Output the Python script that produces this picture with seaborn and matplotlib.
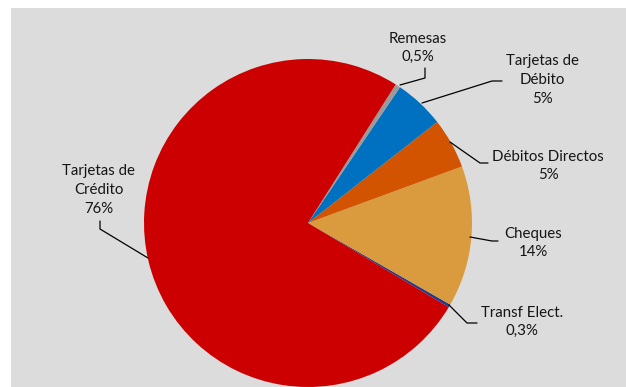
import matplotlib
matplotlib.use("Agg")
import matplotlib.pyplot as plt
from matplotlib.patches import Rectangle
import seaborn as sns

# Payment instruments and their share (%)
categories = ["Transf Elect.", "Cheques", "Débitos Directos", "Tarjetas de\nDébito", "Remesas", "Tarjetas de\nCrédito"]
shares = [0.3, 14, 5, 5, 0.5, 76]
share_labels = ["0,3%", "14%", "5%", "5%", "0,5%", "76%"]
colors = ["#1F3C8F", "#DA9B3E", "#D35400", "#0070C0", "#9A9A9A", "#CC0000"]

sns.set_theme(style="white")
plt.rcParams["font.family"] = ["Lato", "DejaVu Sans"]

W, H = 626, 387
fig = plt.figure(figsize=(W / 100, H / 100), dpi=100)
ax = fig.add_axes([0, 0, 1, 1])

# chart area background
ax.add_patch(Rectangle((11, 0), W - 11, H - 8, facecolor="#DCDCDC", edgecolor="none", zorder=0))

cx, cy, r = 308, H - 223, 164
ax.pie(shares, colors=colors, startangle=-30.9, counterclock=True,
       center=(cx, cy), radius=r, wedgeprops=dict(linewidth=0), frame=False)

ax.set_xlim(0, W)
ax.set_ylim(0, H)
ax.set_aspect("auto")
ax.axis("off")

def py(y):
    return H - y

# label positions (text centre) and leader line paths in pixel coordinates
label_pos = {
    "Transf Elect.": (522, 322),
    "Cheques": (533, 243),
    "Débitos Directos": (548, 166),
    "Tarjetas de\nDébito": (542, 80),
    "Remesas": (418, 48),
    "Tarjetas de\nCrédito": (99, 190),
}
leaders = {
    "Transf Elect.": [(449, 305), (467, 323), (477, 323)],
    "Cheques": [(470, 237), (492, 241), (498, 241)],
    "Débitos Directos": [(450, 142), (480, 163), (488, 163)],
    "Tarjetas de\nDébito": [(422, 103), (492, 81), (502, 81)],
    "Remesas": [(400, 85), (425, 78), (425, 68)],
    "Tarjetas de\nCrédito": [(148, 258), (100, 229), (100, 221)],
}

for cat, lab in zip(categories, share_labels):
    x, y = label_pos[cat]
    ax.text(x, py(y), f"{cat}\n{lab}", ha="center", va="center",
            fontsize=10.8, color="#151515", linespacing=1.42)
    pts = leaders[cat]
    ax.plot([p[0] for p in pts], [py(p[1]) for p in pts], color="#000000", lw=0.9)

fig.savefig("out.png", dpi=100)
